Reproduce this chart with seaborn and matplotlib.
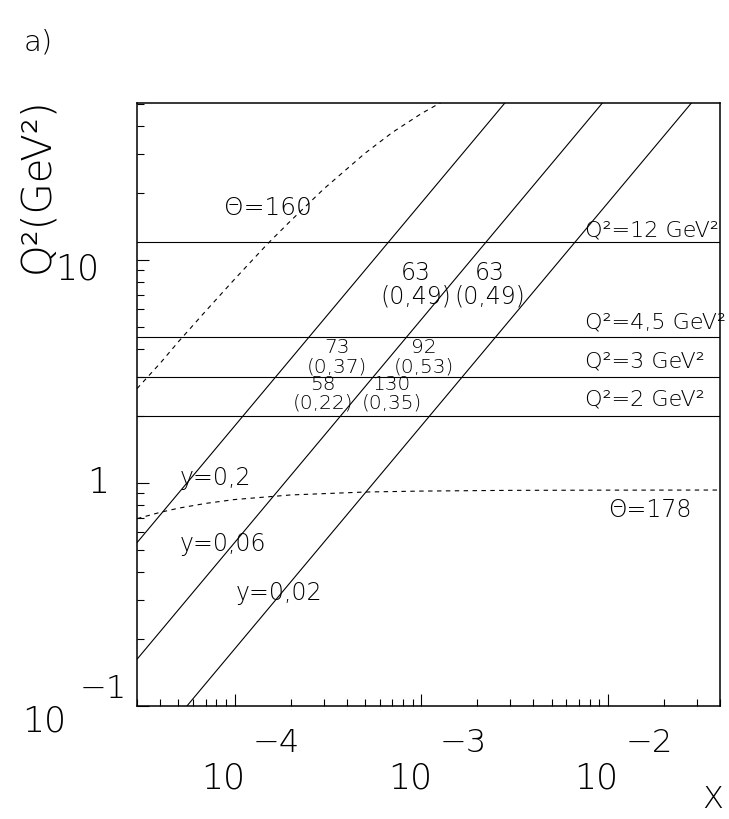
import matplotlib
matplotlib.use("Agg")
import matplotlib.pyplot as plt
import seaborn as sns
import pandas as pd
from matplotlib.ticker import LogLocator, NullFormatter

# ---------------- data ----------------
q2_levels = [2.0, 3.0, 4.5, 12.0]
q2_level_labels = ["Q²=2 GeV²", "Q²=3 GeV²", "Q²=4,5 GeV²", "Q²=12 GeV²"]
q2_label_y = [2.36, 3.52, 5.27, 13.6]

# constant-y lines (end points, x and Q^2)
y02_x = [3.0e-5, 3.0e-3]
y02_q2 = [0.54, 54.0]
y006_x = [3.0e-5, 1.0e-2]
y006_q2 = [0.162, 54.0]
y002_x = [5.0e-5, 3.0e-2]
y002_q2 = [0.09, 54.0]

# constant electron angle curves
theta160_x = [3e-5, 4e-5, 5e-5, 7e-5, 1e-4, 1.5e-4, 2e-4, 3e-4, 5e-4, 7e-4, 1e-3, 1.3e-3]
theta160_q2 = [2.65, 3.45, 4.3, 5.9, 8.2, 11.8, 15.0, 20.8, 30.1, 37.3, 45.3, 51.3]
theta178_x = [3e-5, 4e-5, 5e-5, 7e-5, 1e-4, 2e-4, 5e-4, 1e-3, 3e-3, 1e-2, 4e-2]
theta178_q2 = [0.692, 0.739, 0.771, 0.810, 0.843, 0.884, 0.911, 0.920, 0.927, 0.929, 0.930]

# bin annotations: (events, (purity))
bin_top = ["63", "63", "73", "92", "58", "130"]
bin_bot = ["(0,49)", "(0,49)", "(0,37)", "(0,53)", "(0,22)", "(0,35)"]
bin_x = [9.4e-4, 2.34e-3, 3.55e-4, 1.04e-3, 2.99e-4, 7.0e-4]
bin_y = [7.73, 7.73, 3.67, 3.67, 2.51, 2.51]
bin_size = [17, 17, 14.5, 14.5, 14.5, 14.5]

curve_labels = ["y=0,2", "y=0,06", "y=0,02", "Θ=160", "Θ=178"]
curve_label_x = [5.1e-5, 5.1e-5, 1.02e-4, 1.52e-4, 1.0e-2]
curve_label_y = [1.05, 0.532, 0.321, 17.1, 0.757]
curve_label_ha = ["left", "left", "left", "center", "left"]
curve_label_size = [17, 17, 17, 18, 17]

xtick_vals = [1e-4, 1e-3, 1e-2]
xtick_exp = ["−4", "−3", "−2"]

# ---------------- figure ----------------
sns.set_style("ticks")
plt.rcParams["font.family"] = ["DejaVu Sans"]
plt.rcParams["font.weight"] = 200
plt.rcParams["text.color"] = "black"
plt.rcParams["axes.edgecolor"] = "black"
plt.rcParams["xtick.color"] = "black"
plt.rcParams["ytick.color"] = "black"
plt.rcParams["axes.linewidth"] = 1.1

fig = plt.figure(figsize=(7.29, 8.19), dpi=100)
ax = fig.add_axes([137 / 729, 1 - 706 / 819, (720 - 137) / 729, (706 - 103) / 819])
ax.set_xscale("log")
ax.set_yscale("log")
ax.set_xlim(3.0e-5, 4.0e-2)
ax.set_ylim(0.1, 50.6)

lw = 0.8
for xs, qs in [(y02_x, y02_q2), (y006_x, y006_q2), (y002_x, y002_q2)]:
    sns.lineplot(x=xs, y=qs, ax=ax, color="black", lw=lw, estimator=None)
for xs, qs in [(theta160_x, theta160_q2), (theta178_x, theta178_q2)]:
    sns.lineplot(x=xs, y=qs, ax=ax, color="black", lw=lw, estimator=None,
                 linestyle=(0, (4, 4)))
for q in q2_levels:
    ax.axhline(q, color="black", lw=lw)

# text labels
for lab, yy in zip(q2_level_labels, q2_label_y):
    ax.text(7.57e-3, yy, lab, fontsize=16, ha="left", va="center", clip_on=False)
for t, b, xx, yy, fs in zip(bin_top, bin_bot, bin_x, bin_y, bin_size):
    ax.text(xx, yy, t + "\n" + b, fontsize=fs, ha="center", va="center",
            linespacing=1.0, multialignment="center")
for lab, xx, yy, ha, fs in zip(curve_labels, curve_label_x, curve_label_y,
                               curve_label_ha, curve_label_size):
    ax.text(xx, yy, lab, fontsize=fs, ha=ha, va="center")

# ticks
ax.xaxis.set_major_locator(LogLocator(base=10, numticks=10))
ax.xaxis.set_minor_locator(LogLocator(base=10, subs=range(2, 10), numticks=20))
ax.yaxis.set_major_locator(LogLocator(base=10, numticks=10))
ax.yaxis.set_minor_locator(LogLocator(base=10, subs=range(2, 10), numticks=20))
for axis in (ax.xaxis, ax.yaxis):
    axis.set_major_formatter(NullFormatter())
    axis.set_minor_formatter(NullFormatter())
ax.tick_params(which="major", direction="in", length=8.5, width=0.8,
               top=False, right=False)
ax.tick_params(which="minor", direction="in", length=5, width=0.8,
               top=False, right=False)
for s in ["top", "right", "left", "bottom"]:
    ax.spines[s].set_visible(True)

# x tick labels (10 with raised exponent)
for v, e in zip(xtick_vals, xtick_exp):
    ax.annotate("10", xy=(v, 0), xycoords=("data", "axes fraction"),
                xytext=(8, -52), textcoords="offset points",
                ha="right", va="center", fontsize=25, annotation_clip=False)
    ax.annotate(e, xy=(v, 0), xycoords=("data", "axes fraction"),
                xytext=(13, -27), textcoords="offset points",
                ha="left", va="center", fontsize=23, annotation_clip=False)

# y tick labels
ax.annotate("10", xy=(0, 10), xycoords=("axes fraction", "data"),
            xytext=(-27, -7), textcoords="offset points",
            ha="right", va="center", fontsize=25, annotation_clip=False)
ax.annotate("1", xy=(0, 1), xycoords=("axes fraction", "data"),
            xytext=(-20, 0), textcoords="offset points",
            ha="right", va="center", fontsize=25, annotation_clip=False)
ax.annotate("10", xy=(0, 0.1), xycoords=("axes fraction", "data"),
            xytext=(-51, -11), textcoords="offset points",
            ha="right", va="center", fontsize=25, annotation_clip=False)
ax.annotate("−1", xy=(0, 0.1), xycoords=("axes fraction", "data"),
            xytext=(-7, 12), textcoords="offset points",
            ha="right", va="center", fontsize=23, annotation_clip=False)

# axis titles
fig.text(37 / 729, 1 - 185 / 819, "Q²(GeV²)", rotation=90, fontsize=29,
         ha="center", va="center")
fig.text(713 / 729, 1 - 800 / 819, "X", fontsize=22, ha="center", va="center")
fig.text(38 / 729, 1 - 43 / 819, "a)", fontsize=21, ha="center", va="center")

fig.savefig("out.png", dpi=100)
